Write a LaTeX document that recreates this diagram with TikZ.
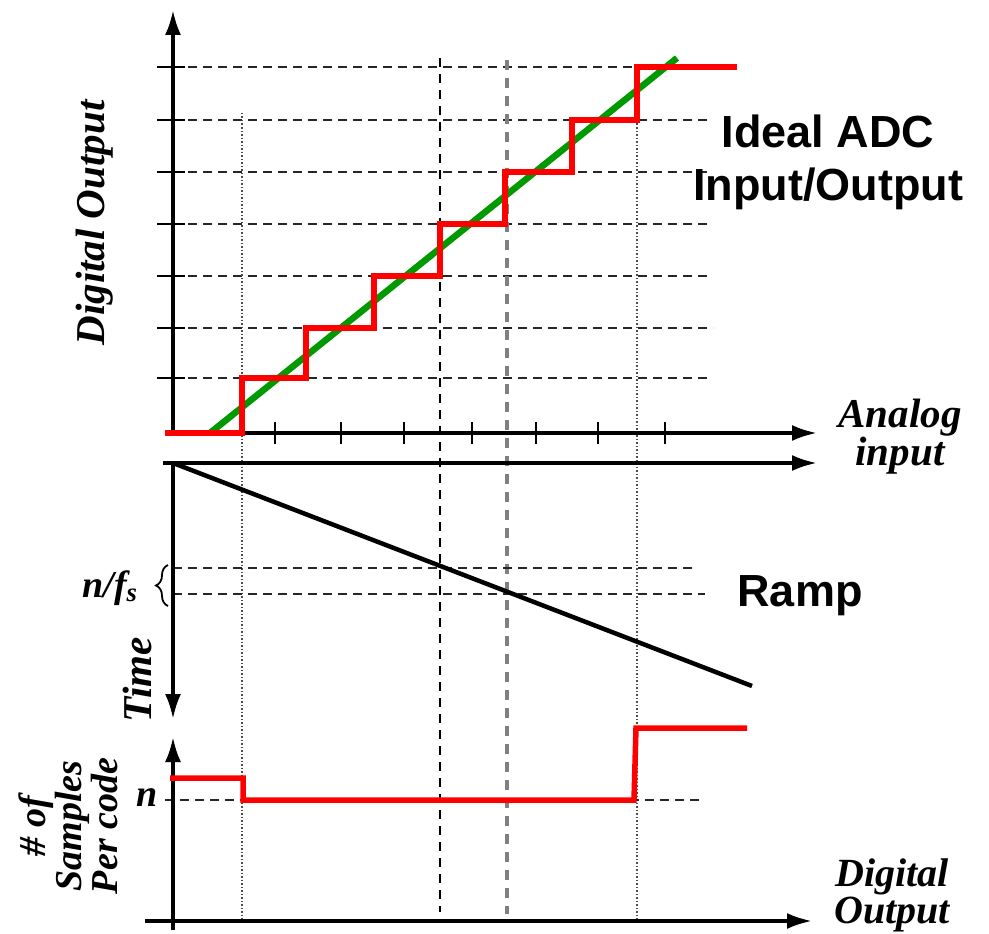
\documentclass[tikz,border=0pt]{standalone}
\usepackage{fontspec}
\setmainfont{Liberation Serif}
\newfontfamily\hsans{Liberation Sans}
\usetikzlibrary{arrows.meta,decorations.pathreplacing}
\begin{document}
\begin{tikzpicture}[x=1pt,y=-1pt,
  axis/.style={line width=3.5pt,-{Latex[length=25pt,width=16pt]}},
  tickmark/.style={line width=2.5pt},
  gridline/.style={line width=2.5pt,dash pattern=on 9pt off 6pt,black!85},
  vdash/.style={line width=2.5pt,dash pattern=on 9pt off 7pt,black},
  vgrey/.style={line width=3.5pt,dash pattern=on 10pt off 8pt,black!50},
  vdot/.style={line width=1.5pt,dash pattern=on 1.5pt off 2pt,black!70},
  redline/.style={line width=5.5pt,red,line join=miter},
  greenline/.style={line width=6.5pt,green!60!black},
  ramp/.style={line width=4.5pt,black},
  lab/.style={font={\fontsize{41}{37}\selectfont\bfseries\itshape},inner sep=0pt},
  title/.style={font={\hsans\bfseries\fontsize{45}{53}\selectfont},inner sep=0pt}]
\useasboundingbox (0,0) rectangle (989,934);

% ---------- top plot ----------
\coordinate (O1) at (173,433);
\coordinate (Ytop) at (173,10);
\coordinate (X1end) at (817,433);

% horizontal dashed grid
\draw[gridline] (173,67) -- (637,67);
\foreach \y/\e in {120/708,172/712,224/710,276/708,328/713,378/710}
  \draw[gridline] (173,\y) -- (\e,\y);
% y ticks
\foreach \y in {67,120,172,224,276,328,378}
  \draw[tickmark] (157,\y) -- (185,\y);
% x ticks
\foreach \x in {275,341,404,472,536,598,665}
  \draw[tickmark] (\x,422) -- (\x,444);

% vertical guides
\draw[vdot] (242,113) -- (242,921);
\draw[vdot] (637,120) -- (637,921);
\draw[vdash] (440,58) -- (440,912);
\draw[vgrey] (507,60) -- (507,914);

\draw[axis] (O1) -- (Ytop);
\draw[axis] (O1) -- (X1end);

% green ideal line
\coordinate (G0) at (210,433);
\coordinate (G1) at (677,58);
\draw[greenline] (G0) -- (G1);
% red staircase
\draw[redline] (165,433) -- (242,433) -- (242,378) -- (306,378) -- (306,328)
  -- (374,328) -- (374,276) -- (440,276) -- (440,224) -- (505,224) -- (505,172)
  -- (572,172) -- (572,120) -- (637,120) -- (637,67) -- (737,67);

% ---------- middle plot ----------
\coordinate (O2) at (173,463);
\coordinate (X2start) at (163,463);
\coordinate (X2end) at (817,463);
\coordinate (Tend) at (173,719);
\draw[gridline] (173,568) -- (695,568);
\draw[gridline] (173,594) -- (705,594);
\draw[axis] (X2start) -- (X2end);
\draw[axis] (O2) -- (Tend);
\coordinate (R1) at (752,686);
\draw[ramp] (O2) -- (R1);
\draw[line width=1.8pt,decorate,decoration={brace,amplitude=12pt}] (168,606) -- (168,565);

% ---------- bottom plot ----------
\coordinate (O3) at (173,930);
\coordinate (Y3top) at (173,737);
\coordinate (X3start) at (145,921);
\coordinate (X3end) at (812,921);
\draw[gridline] (165,800) -- (700,800);
\draw[axis] (O3) -- (Y3top);
\draw[axis] (X3start) -- (X3end);
\draw[redline] (170,778) -- (243,778) -- (243,800) -- (634,800) -- (636,728) -- (747,728);

% ---------- labels ----------
\node[lab,rotate=90] (dout) at (95,223) {Digital Output};
\node[title,align=center] (ideal) at (828,162) {Ideal ADC\\Input/Output};
\node[lab,align=center] (ain) at (900,437) {Analog\\input};
\node[title] (ramplab) at (800,596) {Ramp};
\node[lab,rotate=90] (time) at (137,680) {Time};
\node[lab,font={\fontsize{38}{36}\selectfont\bfseries\itshape}] (nfs) at (110,588) {n/f\textsubscript{s}};
\node[lab,font={\fontsize{38}{36}\selectfont\bfseries\itshape}] (nlab) at (147,798) {n};
\node[lab,rotate=90,align=center,font={\fontsize{38}{36}\selectfont\bfseries\itshape}] (spc) at (68,826) {\# of\\Samples\\Per code};
\node[lab,align=center,font={\fontsize{40}{37}\selectfont\bfseries\itshape}] (dout2) at (892,895) {Digital\\Output};
\end{tikzpicture}
\end{document}
